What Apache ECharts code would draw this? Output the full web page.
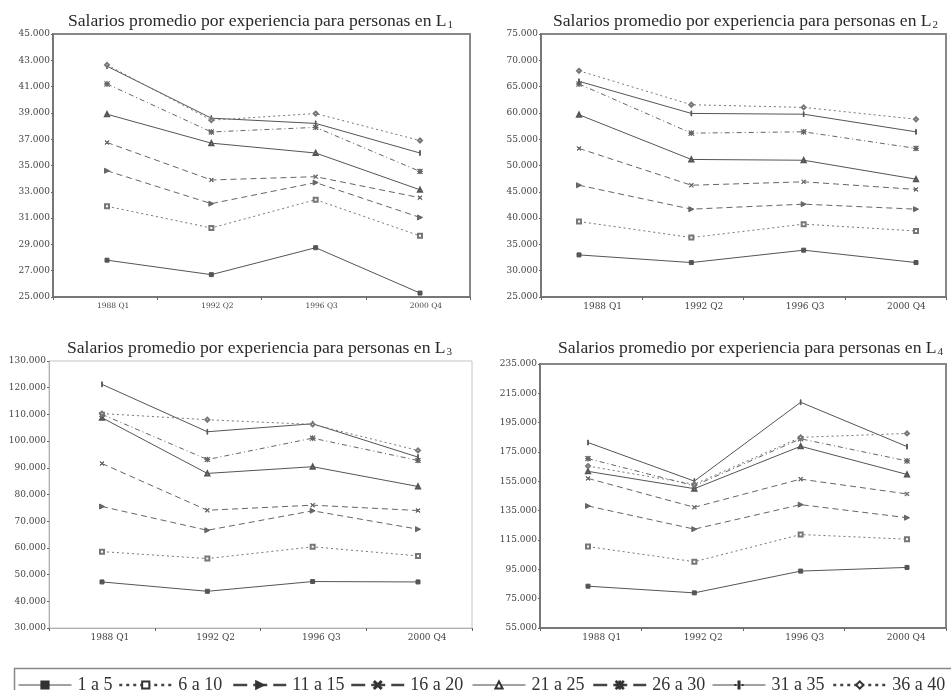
<!DOCTYPE html>
<html>
<head>
<meta charset="utf-8">
<script src="https://cdn.jsdelivr.net/npm/echarts@6/dist/echarts.min.js"></script>
<style>
html,body{margin:0;padding:0;background:#fff;}
#chart{width:951px;height:690px;}
</style>
</head>
<body>
<div id="chart"></div>
<script>
// ---- data ----
var categories = ['1988 Q1', '1992 Q2', '1996 Q3', '2000 Q4'];
var seriesNames = ['1 a 5', '6 a 10', '11 a 15', '16 a 20', '21 a 25', '26 a 30', '31 a 35', '36 a 40'];
var titleSubs = ['1', '2', '3', '4'];

var L1 = [
  [27800, 26700, 28750, 25300],
  [31900, 30250, 32400, 29650],
  [34600, 32100, 33700, 31050],
  [36750, 33900, 34150, 32550],
  [38900, 36700, 35950, 33150],
  [41200, 37550, 37900, 34550],
  [42550, 38600, 38200, 35950],
  [42650, 38450, 38950, 36900]
];
var L2 = [
  [33000, 31550, 33900, 31550],
  [39350, 36300, 38850, 37550],
  [46250, 41700, 42650, 41700],
  [53250, 46250, 46900, 45450],
  [59650, 51150, 51000, 47400],
  [65500, 56150, 56400, 53250],
  [66000, 59900, 59750, 56400],
  [68000, 61550, 61050, 58800]
];
var L3 = [
  [47250, 43750, 47400, 47250],
  [58600, 56000, 60400, 57000],
  [75500, 66600, 73900, 67000],
  [91600, 74100, 76000, 74000],
  [108750, 87900, 90400, 83000],
  [110000, 93100, 101100, 92750],
  [121250, 103500, 106500, 94000],
  [110300, 108000, 106250, 96500]
];
var L4 = [
  [83500, 78950, 93800, 96300],
  [110500, 100200, 118750, 115550],
  [138200, 122400, 139100, 130200],
  [157000, 137300, 156500, 146400],
  [161800, 150000, 178900, 159700],
  [170500, 152000, 184000, 168900],
  [181450, 155150, 208900, 178700],
  [165400, 153000, 185000, 187650]
];
var yRanges = [[25000, 45000, 2000], [25000, 75000, 5000], [30000, 130000, 10000], [55000, 235000, 20000]];

// ---- styles ----
var FONT = '"Liberation Serif", "Times New Roman", serif';
var TICKFONT = '"DejaVu Serif", serif';
var symX = 'path://M0,1L1,0L5,4L9,0L10,1L6,5L10,9L9,10L5,6L1,10L0,9L4,5Z';
var symAst = 'path://M0,0.6L0.6,0L5,4.4L9.4,0L10,0.6L5.6,5L10,9.4L9.4,10L5,5.6L0.6,10L0,9.4L4.4,5ZM4.5,0H5.5V10H4.5ZM0,4.5H10V5.5H0Z';
var symBar = 'path://M4.3,0H5.7V10H4.3ZM0,5H0.01V5.01H0ZM9.99,5H10V5.01H9.99Z';
var seriesStyle = [
  {symbol: 'rect', size: 4, type: 'solid', color: '#555', leg: 'solid'},
  {symbol: 'emptyRect', size: 4, type: [2, 3], color: '#777', leg: [3, 4]},
  {symbol: 'triangle', size: 5, rotate: -90, type: [6, 4], color: '#666', leg: [14, 6]},
  {symbol: symX, size: 4, type: [6, 4], color: '#666', leg: [14, 6]},
  {symbol: 'emptyTriangle', size: 4, type: 'solid', color: '#555', leg: 'solid'},
  {symbol: symAst, size: 5, type: [5, 3, 1, 3], color: '#666', leg: [14, 6]},
  {symbol: symBar, size: 5, type: 'solid', color: '#555', leg: 'solid'},
  {symbol: 'emptyDiamond', size: 4, type: [2, 3], color: '#777', leg: [3, 4]}
];

var panels = [
  {data: L1, left: 53, top: 34, width: 417, height: 263, px: [107, 420], titleLeft: 68, titleTop: 11, frame: '#888', fw: 2, catFont: 7.5, pad: 16},
  {data: L2, left: 541, top: 34, width: 405, height: 263, px: [579, 916], titleLeft: 553, titleTop: 11, frame: '#888', fw: 2, catFont: 9, pad: 22},
  {data: L3, left: 49, top: 361, width: 423, height: 267, px: [102, 418], titleLeft: 67, titleTop: 338, frame: '#c4c4c4', fw: 1, catFont: 9, pad: 16},
  {data: L4, left: 540, top: 364, width: 406, height: 264, px: [588, 907], titleLeft: 558, titleTop: 338, frame: '#888', fw: 2, catFont: 9, pad: 22}
];

function fmt(v) { return String(v).replace(/\B(?=(\d{3})+(?!\d))/g, '.'); }

var option = {
  animation: false,
  backgroundColor: '#fff',
  textStyle: {fontFamily: FONT},
  title: [], grid: [], xAxis: [], yAxis: [], series: [], legend: [],
  graphic: [{
    type: 'rect', left: 12, top: 666,
    shape: {width: 960, height: 40},
    style: {fill: 'none', stroke: '#888', lineWidth: 1.5}
  }]
};

panels.forEach(function (p, i) {
  option.title.push({
    text: '{t|Salarios promedio por experiencia para personas en L}{s|' + titleSubs[i] + '}',
    left: p.titleLeft, top: p.titleTop, padding: 0,
    textStyle: {
      fontWeight: 'normal',
      rich: {
        t: {fontFamily: FONT, fontSize: 17.6, fontWeight: 'normal', color: '#2a2a2a', lineHeight: 20},
        s: {fontFamily: FONT, fontSize: 11, fontWeight: 'normal', color: '#2a2a2a', lineHeight: 20, padding: [9, 0, 0, 1]}
      }
    }
  });
  option.grid.push({
    left: p.left, top: p.top, width: p.width, height: p.height,
    show: true, borderColor: p.frame, borderWidth: p.fw, outerBoundsMode: 'none'
  });
  var axisCol = p.fw === 2 ? '#777' : '#b0b0b0';
  option.xAxis.push({
    type: 'category', gridIndex: i, data: categories, boundaryGap: true,
    axisLine: {onZero: false, lineStyle: {color: axisCol, width: p.fw}},
    axisTick: {show: true, length: 3, lineStyle: {color: '#666'}},
    axisLabel: {fontFamily: TICKFONT, fontSize: p.catFont, color: '#444', margin: 5, padding: [0, 0, 0, p.pad]},
    splitLine: {show: false}
  });
  var unit = (p.px[1] - p.px[0]) / 3;
  option.xAxis.push({
    type: 'value', gridIndex: i, show: false,
    min: -(p.px[0] - p.left) / unit,
    max: 3 + (p.left + p.width - p.px[1]) / unit,
    axisLine: {show: false, onZero: false},
    splitLine: {show: false}
  });
  var yr = yRanges[i];
  option.yAxis.push({
    type: 'value', gridIndex: i, min: yr[0], max: yr[1], interval: yr[2],
    axisLine: {show: true, onZero: false, lineStyle: {color: axisCol, width: p.fw}},
    axisTick: {show: true, length: 2, lineStyle: {color: '#666'}},
    axisLabel: {fontFamily: TICKFONT, fontSize: 9, color: '#444', margin: 3, formatter: fmt},
    splitLine: {show: false}
  });
  p.data.forEach(function (vals, k) {
    var st = seriesStyle[k];
    option.series.push({
      name: seriesNames[k], type: 'line',
      xAxisIndex: i * 2 + 1, yAxisIndex: i,
      data: vals.map(function (v, j) { return [j, v]; }),
      symbol: st.symbol, symbolSize: st.size, symbolRotate: st.rotate || 0,
      showAllSymbol: true,
      lineStyle: {color: st.color, width: 1, type: st.type},
      itemStyle: {color: st.color, borderColor: st.color, borderWidth: 1},
      emphasis: {disabled: true}
    });
  });
});

var legendLefts = [18, 118, 232, 350, 472, 592, 712, 832];
seriesNames.forEach(function (n, k) {
  var st = seriesStyle[k];
  option.legend.push({
    data: [n], left: legendLefts[k], top: 676, padding: 0,
    itemWidth: 53, itemHeight: 9, itemGap: 0,
    lineStyle: {type: st.leg, width: st.leg === 'solid' ? 1 : 2.5, color: '#444'},
    itemStyle: {color: '#333', borderColor: '#333'},
    textStyle: {fontFamily: FONT, fontSize: 18, color: '#333', padding: [0, 0, 0, 1]},
    selectedMode: false
  });
});

var chart = echarts.init(document.getElementById('chart'), null, {renderer: 'canvas'});
chart.setOption(option);
</script>
</body>
</html>
